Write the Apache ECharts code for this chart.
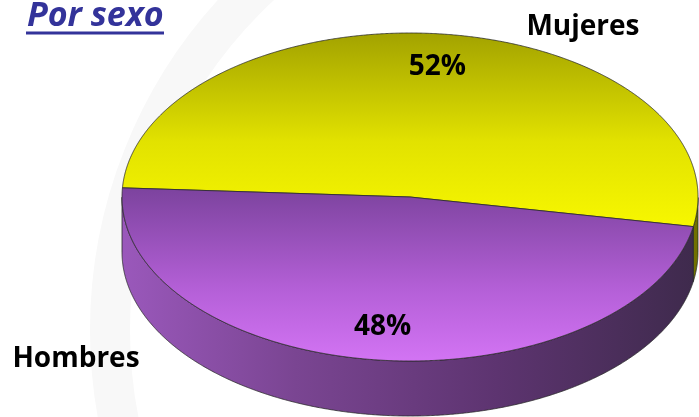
<!DOCTYPE html>
<html>
<head>
<meta charset="utf-8">
<script src="https://cdn.jsdelivr.net/npm/echarts@6/dist/echarts.min.js"></script>
<style>
html,body{margin:0;padding:0;background:#fff;}
#c{width:699px;height:417px;}
</style>
</head>
<body>
<div id="c"></div>
<script>
// ---- data ----
const categories = ['Mujeres', 'Hombres'];
const values = [52, 48];
const titleText = 'Por sexo';

// ---- geometry (pseudo-3D ellipse) ----
const G = { cx: 410, cy: 197, rx: 288, ry: 164, depth: 55, start: 176.8 };
const total = values.reduce((a, b) => a + b, 0);
function sliceAngles(i) {
  let acc = 0;
  for (let k = 0; k < i; k++) acc += values[k];
  const a1 = G.start - acc / total * 360;
  const a2 = a1 - values[i] / total * 360;
  return [a1, a2];
}
function pt(deg, dy) {
  const r = deg * Math.PI / 180;
  return [G.cx + G.rx * Math.cos(r), G.cy - G.ry * Math.sin(r) + (dy || 0)];
}
const topFill = [
  { type: 'linear', x: 0, y: 34, x2: 0, y2: 230, global: true,
    colorStops: [{ offset: 0, color: '#a3a300' }, { offset: 0.55, color: '#e2e200' }, { offset: 1, color: '#f8f800' }] },
  { type: 'linear', x: 0, y: 185, x2: 0, y2: 362, global: true,
    colorStops: [{ offset: 0, color: '#7a429c' }, { offset: 0.6, color: '#b560d8' }, { offset: 1, color: '#d374f4' }] }
];
const wallFill = [
  { type: 'linear', x: 600, y: 0, x2: 700, y2: 0, global: true,
    colorStops: [{ offset: 0, color: '#9a9a00' }, { offset: 1, color: '#6e6e00' }] },
  { type: 'linear', x: 123, y: 0, x2: 698, y2: 0, global: true,
    colorStops: [{ offset: 0, color: '#9a58bb' }, { offset: 0.3, color: '#7a4592' }, { offset: 0.65, color: '#5d3470' }, { offset: 1, color: '#3e2a4c' }] }
];
const nameLabelPos = [[583, 27], [76, 359]];

function renderWall(params, api) {
  const i = params.dataIndex;
  const [a1, a2] = sliceAngles(i);
  const runs = [];
  let cur = null;
  const step = 0.25;
  for (let a = a1; a >= a2 - 1e-9; a -= step) {
    const aa = Math.max(a, a2);
    const s = Math.sin(aa * Math.PI / 180);
    if (s <= 1e-6) { if (!cur) { cur = []; runs.push(cur); } cur.push(aa); }
    else cur = null;
  }
  if (cur && cur[cur.length - 1] !== a2 && Math.sin(a2 * Math.PI / 180) <= 1e-6) cur.push(a2);
  const children = runs.filter(r => r.length > 1).map(run => {
    const top = run.map(a => pt(a, 0));
    const bot = run.slice().reverse().map(a => pt(a, G.depth));
    return {
      type: 'polygon',
      shape: { points: top.concat(bot) },
      style: { fill: wallFill[i], stroke: '#2a2a2a', lineWidth: 0.8 }
    };
  });
  return { type: 'group', children: children };
}

function renderTop(params, api) {
  const i = params.dataIndex;
  const [a1, a2] = sliceAngles(i);
  const pts = [[G.cx, G.cy]];
  const n = Math.ceil((a1 - a2) / 0.25);
  for (let k = 0; k <= n; k++) pts.push(pt(a1 - (a1 - a2) * k / n, 0));
  const mid = (a1 + a2) / 2 * Math.PI / 180;
  const lx = G.cx + G.rx * 0.8 * Math.cos(mid);
  const ly = G.cy - G.ry * 0.8 * Math.sin(mid);
  const pct = Math.round(api.value(0) / total * 100) + '%';
  return {
    type: 'group',
    children: [
      { type: 'polygon', shape: { points: pts },
        style: { fill: topFill[i], stroke: '#2a2a2a', lineWidth: 0.8 } },
      { type: 'text', x: lx, y: ly,
        style: { text: pct, fill: '#000', font: 'bold 28px "Open Sans", sans-serif', align: 'center', verticalAlign: 'middle' } },
      { type: 'text', x: nameLabelPos[i][0], y: nameLabelPos[i][1],
        style: { text: categories[i], fill: '#000', font: 'bold 28px "Open Sans", sans-serif', align: 'center', verticalAlign: 'middle' } }
    ]
  };
}

const chart = echarts.init(document.getElementById('c'), null, { renderer: 'canvas' });
chart.setOption({
  backgroundColor: '#ffffff',
  animation: false,
  title: {
    text: titleText, left: 22, top: -6,
    textStyle: { color: '#33339a', fontSize: 34, fontWeight: 'bold', fontStyle: 'italic', fontFamily: '"Open Sans", sans-serif' }
  },
  graphic: [
    { type: 'circle', z: -10, silent: true, shape: { cx: 580, cy: 330, r: 470 },
      style: { fill: 'none', stroke: '#f8f8f8', lineWidth: 40 } },
    { type: 'line', shape: { x1: 26, y1: 33, x2: 164, y2: 33 }, style: { stroke: '#33339a', lineWidth: 3 } }
  ],
  series: [
    { type: 'custom', coordinateSystem: 'none', renderItem: renderWall,
      data: values.map((v, i) => ({ name: categories[i], value: [v] })), z: 1 },
    { type: 'custom', coordinateSystem: 'none', renderItem: renderTop,
      data: values.map((v, i) => ({ name: categories[i], value: [v] })), z: 2 }
  ]
});
</script>
</body>
</html>
